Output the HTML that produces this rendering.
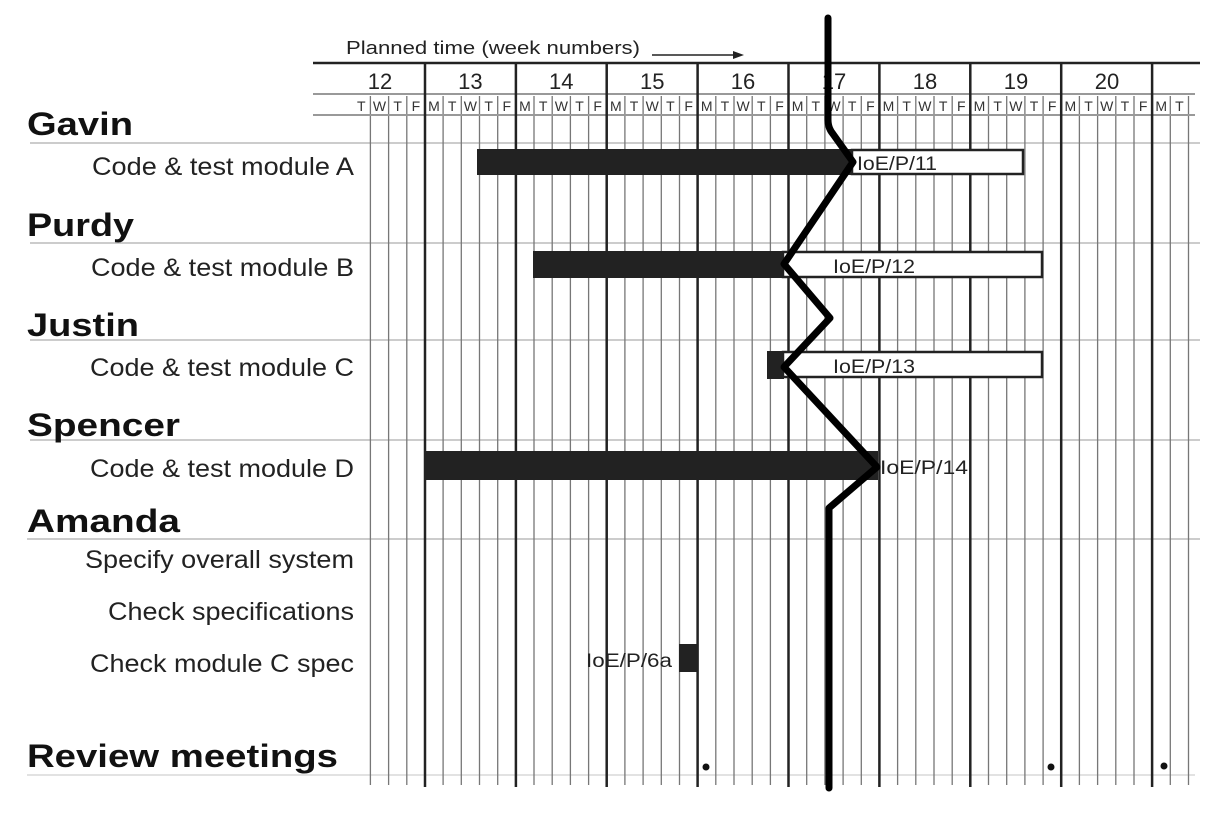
<!DOCTYPE html>
<html><head><meta charset="utf-8"><style>
html,body{margin:0;padding:0;background:#fff;width:1218px;height:814px;overflow:hidden}
svg{display:block}
.n{font-family:"Liberation Sans",sans-serif;font-weight:bold;font-size:32px;fill:#111}
.t{font-family:"Liberation Sans",sans-serif;font-size:25px;fill:#222}
.d{font-family:"Liberation Sans",sans-serif;font-size:14px;fill:#333;text-anchor:middle}
.w{font-family:"Liberation Sans",sans-serif;font-size:22px;fill:#222;text-anchor:middle}
.l{font-family:"Liberation Sans",sans-serif;font-size:19px;fill:#222}
</style></head><body>
<svg width="1218" height="814" viewBox="0 0 1218 814">
<g stroke="#ccc" stroke-width="2">
<line x1="30" y1="143" x2="1200" y2="143"/>
<line x1="30" y1="243" x2="1200" y2="243"/>
<line x1="30" y1="340" x2="1200" y2="340"/>
<line x1="30" y1="440" x2="1200" y2="440"/>
<line x1="27" y1="539" x2="1200" y2="539"/>
<line x1="27" y1="775" x2="1195" y2="775" stroke="#e2e2e2"/>
</g>
<g stroke="#777" stroke-width="1.3">
<path d="M370.4 96V785M388.6 96V785M406.8 96V785M443.1 96V785M461.3 96V785M479.5 96V785M497.7 96V785M534 96V785M552.2 96V785M570.4 96V785M588.6 96V785M624.9 96V785M643.1 96V785M661.3 96V785M679.5 96V785M715.8 96V785M734 96V785M752.2 96V785M770.4 96V785M806.7 96V785M824.9 96V785M843.1 96V785M861.3 96V785M897.6 96V785M915.8 96V785M934 96V785M952.2 96V785M988.5 96V785M1006.7 96V785M1024.9 96V785M1043.1 96V785M1079.4 96V785M1097.6 96V785M1115.8 96V785M1134 96V785M1170.3 96V785M1188.5 96V785"/>
</g>
<line x1="313" y1="63" x2="1200" y2="63" stroke="#222" stroke-width="2.5"/>
<line x1="313" y1="94" x2="1195" y2="94" stroke="#999" stroke-width="2"/>
<line x1="313" y1="115" x2="1195" y2="115" stroke="#999" stroke-width="2"/>
<g stroke="#222" stroke-width="2.5">
<path d="M425 63V787M515.9 63V787M606.7 63V787M697.6 63V787M788.5 63V787M879.4 63V787M970.3 63V787M1061.2 63V787M1152.1 63V787"/>
</g>
<text x="346" y="54" class="l" style="font-size:18px" textLength="294" lengthAdjust="spacingAndGlyphs">Planned time (week numbers)</text>
<line x1="652" y1="55" x2="735" y2="55" stroke="#222" stroke-width="1.5"/>
<polygon points="733,51 744,55 733,59" fill="#222"/>
<g class="w">
<text x="380" y="89">12</text><text x="470.4" y="89">13</text><text x="561.3" y="89">14</text><text x="652.2" y="89">15</text><text x="743" y="89">16</text><text x="834" y="89">17</text><text x="925" y="89">18</text><text x="1016" y="89">19</text><text x="1107" y="89">20</text>
</g>
<g class="d">
<text x="361.3" y="111">T</text><text x="379.5" y="111">W</text><text x="397.7" y="111">T</text><text x="415.9" y="111">F</text>
<text x="434" y="111">M</text><text x="452.2" y="111">T</text><text x="470.4" y="111">W</text><text x="488.6" y="111">T</text><text x="506.8" y="111">F</text>
<text x="524.9" y="111">M</text><text x="543.1" y="111">T</text><text x="561.3" y="111">W</text><text x="579.5" y="111">T</text><text x="597.7" y="111">F</text>
<text x="615.8" y="111">M</text><text x="634" y="111">T</text><text x="652.2" y="111">W</text><text x="670.4" y="111">T</text><text x="688.6" y="111">F</text>
<text x="706.7" y="111">M</text><text x="724.9" y="111">T</text><text x="743.1" y="111">W</text><text x="761.3" y="111">T</text><text x="779.5" y="111">F</text>
<text x="797.6" y="111">M</text><text x="815.8" y="111">T</text><text x="834" y="111">W</text><text x="852.2" y="111">T</text><text x="870.4" y="111">F</text>
<text x="888.5" y="111">M</text><text x="906.7" y="111">T</text><text x="924.9" y="111">W</text><text x="943.1" y="111">T</text><text x="961.3" y="111">F</text>
<text x="979.4" y="111">M</text><text x="997.6" y="111">T</text><text x="1015.8" y="111">W</text><text x="1034" y="111">T</text><text x="1052.2" y="111">F</text>
<text x="1070.3" y="111">M</text><text x="1088.5" y="111">T</text><text x="1106.7" y="111">W</text><text x="1124.9" y="111">T</text><text x="1143.1" y="111">F</text>
<text x="1161.2" y="111">M</text><text x="1179.4" y="111">T</text>
</g>
<g class="n" lengthAdjust="spacingAndGlyphs">
<text x="27" y="135" textLength="106" lengthAdjust="spacingAndGlyphs">Gavin</text>
<text x="27" y="236" textLength="107" lengthAdjust="spacingAndGlyphs">Purdy</text>
<text x="27" y="336" textLength="112" lengthAdjust="spacingAndGlyphs">Justin</text>
<text x="27" y="436" textLength="153" lengthAdjust="spacingAndGlyphs">Spencer</text>
<text x="27" y="532" textLength="153" lengthAdjust="spacingAndGlyphs">Amanda</text>
<text x="27" y="767" textLength="311" lengthAdjust="spacingAndGlyphs">Review meetings</text>
</g>
<g class="t">
<text x="92" y="175" textLength="262" lengthAdjust="spacingAndGlyphs">Code &amp; test module A</text>
<text x="91" y="276" textLength="263" lengthAdjust="spacingAndGlyphs">Code &amp; test module B</text>
<text x="90" y="376" textLength="264" lengthAdjust="spacingAndGlyphs">Code &amp; test module C</text>
<text x="90" y="477" textLength="264" lengthAdjust="spacingAndGlyphs">Code &amp; test module D</text>
<text x="85" y="568" textLength="269" lengthAdjust="spacingAndGlyphs">Specify overall system</text>
<text x="108" y="620" textLength="246" lengthAdjust="spacingAndGlyphs">Check specifications</text>
<text x="90" y="672" textLength="264" lengthAdjust="spacingAndGlyphs">Check module C spec</text>
</g>
<rect x="852" y="150" width="171" height="24" fill="#fff" stroke="#222" stroke-width="2.5"/>
<rect x="477" y="149" width="376" height="26" fill="#222"/>
<rect x="783" y="252" width="259" height="25" fill="#fff" stroke="#222" stroke-width="2.5"/>
<rect x="533" y="251" width="251" height="27" fill="#222"/>
<rect x="783" y="352" width="259" height="25" fill="#fff" stroke="#222" stroke-width="2.5"/>
<rect x="767" y="351" width="17" height="28" fill="#222"/>
<rect x="424" y="451" width="454" height="29" fill="#222"/>
<rect x="679" y="644" width="18" height="28" fill="#222"/>
<g class="l">
<text x="857" y="170" textLength="80" lengthAdjust="spacingAndGlyphs">IoE/P/11</text>
<text x="833" y="273" textLength="82" lengthAdjust="spacingAndGlyphs">IoE/P/12</text>
<text x="833" y="373" textLength="82" lengthAdjust="spacingAndGlyphs">IoE/P/13</text>
<text x="880" y="474" textLength="88" lengthAdjust="spacingAndGlyphs">IoE/P/14</text>
<text x="586" y="667" textLength="86" lengthAdjust="spacingAndGlyphs">IoE/P/6a</text>
</g>
<circle cx="706" cy="767" r="3.5" fill="#111"/>
<circle cx="1051" cy="767" r="3.5" fill="#111"/>
<circle cx="1164" cy="766" r="3.5" fill="#111"/>
<path d="M828 18V120Q828 128 833 134L853 162L784 264L830 318L784 367L877 467L829 508V788" fill="none" stroke="#000" stroke-width="7" stroke-linejoin="round" stroke-linecap="round"/>
</svg>
</body></html>
